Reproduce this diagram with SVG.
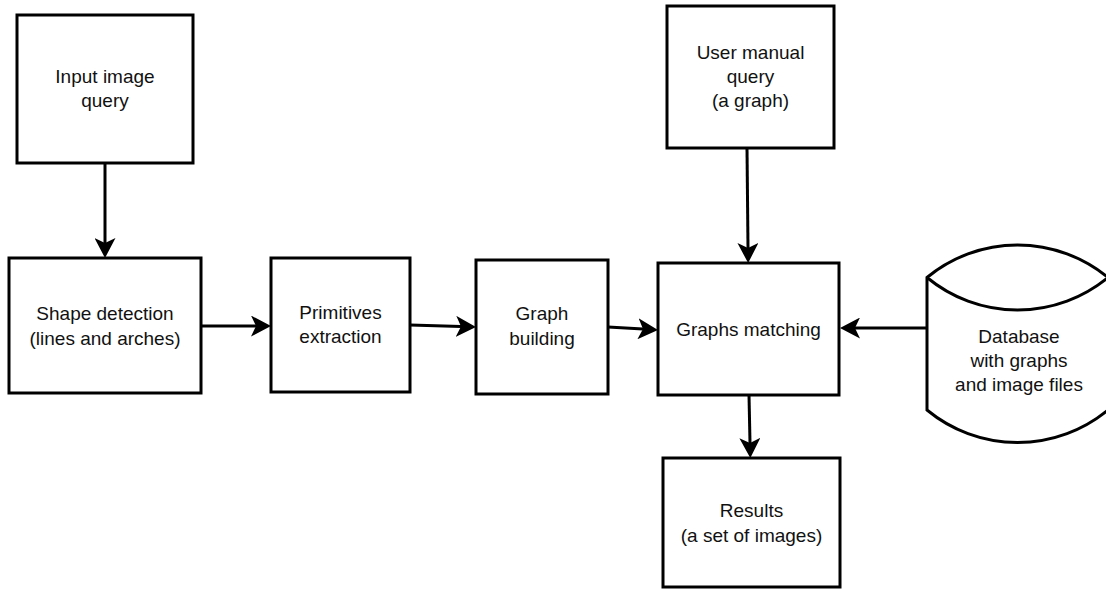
<svg xmlns="http://www.w3.org/2000/svg" width="1106" height="590" viewBox="0 0 1106 590">
  <style>
    .box { fill: #ffffff; stroke: #000000; stroke-width: 3; }
    .lbl { font-family: "Liberation Sans", Arial, sans-serif; font-size: 19px; fill: #111111; text-anchor: middle; }
    .conn { stroke: #000000; stroke-width: 3; fill: none; marker-end: url(#arrow); }
  </style>
  <defs>
    <marker id="arrow" viewBox="0 0 20 21" refX="5" refY="10.5" markerWidth="20" markerHeight="21" markerUnits="userSpaceOnUse" orient="auto">
      <path d="M0,0 L20,10.5 L0,21 L5,10.5 Z" fill="#000000"/>
    </marker>
  </defs>
  <rect width="1106" height="590" fill="#ffffff"/>

  <g id="connectors">
    <line class="conn" x1="105" y1="163" x2="105" y2="243"/>
    <line class="conn" x1="201" y1="326" x2="256" y2="326"/>
    <line class="conn" x1="410" y1="325" x2="461" y2="326.5"/>
    <line class="conn" x1="608" y1="327" x2="643" y2="329.1"/>
    <line class="conn" x1="747" y1="148" x2="748" y2="248"/>
    <line class="conn" x1="927" y1="328" x2="855" y2="328"/>
    <line class="conn" x1="749" y1="395" x2="750" y2="443"/>
  </g>

  <g id="input-image-query">
    <rect class="box" x="17" y="15" width="176" height="148"/>
    <text class="lbl" x="105" y="83">Input image</text>
    <text class="lbl" x="105" y="107">query</text>
  </g>

  <g id="shape-detection">
    <rect class="box" x="9" y="258" width="192" height="135"/>
    <text class="lbl" x="105" y="320">Shape detection</text>
    <text class="lbl" x="105" y="345">(lines and arches)</text>
  </g>

  <g id="primitives-extraction">
    <rect class="box" x="271" y="258" width="139" height="134"/>
    <text class="lbl" x="340.5" y="319">Primitives</text>
    <text class="lbl" x="340.5" y="343">extraction</text>
  </g>

  <g id="graph-building">
    <rect class="box" x="476" y="260" width="132" height="134"/>
    <text class="lbl" x="542" y="320">Graph</text>
    <text class="lbl" x="542" y="345">building</text>
  </g>

  <g id="graphs-matching">
    <rect class="box" x="658" y="263" width="181" height="132"/>
    <text class="lbl" x="748.5" y="336">Graphs matching</text>
  </g>

  <g id="user-manual-query">
    <rect class="box" x="667" y="6" width="167" height="142"/>
    <text class="lbl" x="750.5" y="59">User manual</text>
    <text class="lbl" x="750.5" y="83">query</text>
    <text class="lbl" x="750.5" y="107">(a graph)</text>
  </g>

  <g id="results">
    <rect class="box" x="663" y="458" width="177" height="129"/>
    <text class="lbl" x="751.5" y="517">Results</text>
    <text class="lbl" x="751.5" y="542">(a set of images)</text>
  </g>

  <g id="database">
    <path class="box" d="M927,277.5 A142.2,142.2 0 0 1 1108,277.5 L1108,410 A142.2,142.2 0 0 1 927,410 Z"/>
    <path class="box" fill="none" d="M927,277.5 A142.2,142.2 0 0 0 1108,277.5"/>
    <text class="lbl" x="1019" y="343">Database</text>
    <text class="lbl" x="1019" y="367">with graphs</text>
    <text class="lbl" x="1019" y="391">and image files</text>
  </g>
</svg>
